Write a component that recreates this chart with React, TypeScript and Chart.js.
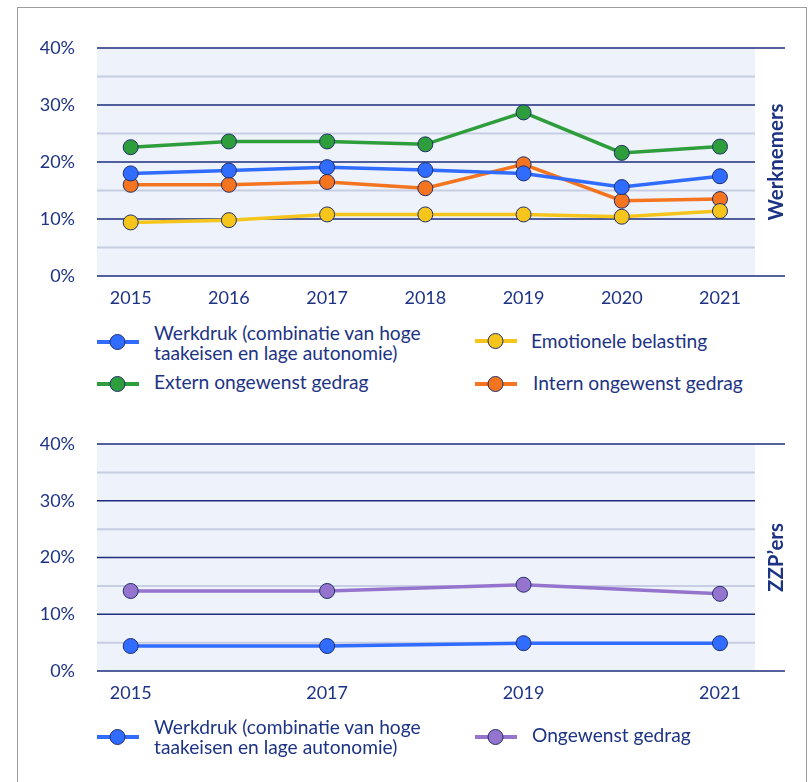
import React, { useEffect, useRef } from 'react';
import { Chart, registerables } from 'chart.js';

Chart.register(...registerables);

// ---------- data ----------
const yearsWerknemers = [2015, 2016, 2017, 2018, 2019, 2020, 2021];
const werkdrukWerknemers = [18.0, 18.5, 19.1, 18.6, 18.0, 15.6, 17.5];
const emotioneleBelasting = [9.4, 9.8, 10.8, 10.8, 10.8, 10.4, 11.4];
const externOngewenst = [22.6, 23.6, 23.6, 23.1, 28.7, 21.6, 22.7];
const internOngewenst = [16.0, 16.0, 16.5, 15.4, 19.6, 13.2, 13.5];

const yearsZzp = [2015, 2017, 2019, 2021];
const werkdrukZzp = [4.4, 4.4, 4.9, 4.9];
const ongewenstZzp = [14.1, 14.1, 15.2, 13.6];

const yTickValues = [0, 10, 20, 30, 40];
const gridValues = [0, 5, 10, 15, 20, 25, 30, 35, 40];

const labelWerkdruk = ['Werkdruk (combinatie van hoge', 'taakeisen en lage autonomie)'];
const labelEmotionele = ['Emotionele belasting'];
const labelExtern = ['Extern ongewenst gedrag'];
const labelIntern = ['Intern ongewenst gedrag'];
const labelOngewenst = ['Ongewenst gedrag'];

// ---------- styles ----------
const NAVY = '#1d3384';
const GRID_DARK = '#1b2d7c';
const GRID_LIGHT = '#c7cee3';
const PLOT_BG = '#eef2fa';
const POINT_BORDER = '#22306e';
const FONT = 'Lato, "Noto Sans", sans-serif';

const BLUE = '#2f6cff';
const YELLOW = '#f5c51b';
const GREEN = '#2e9d3b';
const ORANGE = '#f47420';
const PURPLE = '#9474cc';

Chart.defaults.font.family = FONT;

type Series = { label: string[]; color: string; values: number[] };

function makeDataset(s: Series, years: number[]) {
  return {
    label: s.label.join(' '),
    data: years.map((y, i) => ({ x: y, y: s.values[i] })),
    borderColor: s.color,
    backgroundColor: s.color,
    borderWidth: 3.5,
    pointRadius: 7.5,
    pointHoverRadius: 7.5,
    pointBackgroundColor: s.color,
    pointBorderColor: POINT_BORDER,
    pointBorderWidth: 1,
    tension: 0,
    fill: false,
  };
}

function PanelChart(props: {
  years: number[];
  series: Series[];
  sideLabel: string;
  top: number;
  padTop: number;
  axisHeight: number;
}) {
  const ref = useRef<HTMLCanvasElement | null>(null);
  const { years, series, sideLabel, top, padTop, axisHeight } = props;

  useEffect(() => {
    if (!ref.current) return;
    const bandRightInset = 30;
    const panelPlugin = {
      id: 'panelPlugin',
      beforeDatasetsDraw(chart: any) {
        const { ctx, chartArea } = chart;
        const ys = chart.scales.y;
        const bandRight = chartArea.right - bandRightInset;
        ctx.save();
        ctx.fillStyle = PLOT_BG;
        ctx.fillRect(chartArea.left, chartArea.top, bandRight - chartArea.left, chartArea.bottom - chartArea.top);
        for (const v of gridValues) {
          const py = ys.getPixelForValue(v);
          const major = v % 10 === 0;
          const edge = v === 0 || v === 40;
          ctx.beginPath();
          ctx.strokeStyle = major ? GRID_DARK : GRID_LIGHT;
          ctx.lineWidth = major ? 1.5 : 2;
          ctx.moveTo(chartArea.left, py);
          ctx.lineTo(edge ? chartArea.right : bandRight, py);
          ctx.stroke();
        }
        ctx.restore();
      },
      afterDraw(chart: any) {
        const { ctx, chartArea } = chart;
        ctx.save();
        ctx.translate(chartArea.right - 2, (chartArea.top + chartArea.bottom) / 2);
        ctx.rotate(-Math.PI / 2);
        ctx.fillStyle = NAVY;
        ctx.font = `bold 20.5px ${FONT}`;
        ctx.textAlign = 'center';
        ctx.textBaseline = 'alphabetic';
        ctx.fillText(sideLabel, 0, 0);
        ctx.restore();
      },
    };

    const chart = new Chart(ref.current, {
      type: 'line',
      data: { datasets: series.map((s) => makeDataset(s, years)) as any },
      options: {
        animation: false,
        responsive: false,
        maintainAspectRatio: false,
        events: [],
        layout: { padding: { top: padTop, right: 23, left: 0, bottom: 0 }, autoPadding: false } as any,
        plugins: { legend: { display: false }, tooltip: { enabled: false } },
        scales: {
          x: {
            type: 'linear',
            min: 2014.657,
            max: 2021.662,
            grid: { display: false },
            border: { display: false },
            afterBuildTicks: (axis: any) => {
              axis.ticks = years.map((v) => ({ value: v }));
            },
            afterFit: (scale: any) => {
              scale.height = axisHeight;
            },
            ticks: {
              autoSkip: false,
              maxRotation: 0,
              padding: 3,
              color: NAVY,
              font: { size: 18, family: FONT },
              callback: (v: any) => String(v),
            },
          },
          y: {
            type: 'linear',
            min: 0,
            max: 40,
            grid: { display: false },
            border: { display: false },
            afterBuildTicks: (axis: any) => {
              axis.ticks = yTickValues.map((v) => ({ value: v }));
            },
            afterFit: (scale: any) => {
              scale.width = 97;
            },
            ticks: {
              padding: 14,
              color: NAVY,
              font: { size: 18, family: FONT },
              callback: (v: any) => `${v}%`,
            },
          },
        },
      },
      plugins: [panelPlugin],
    });
    return () => chart.destroy();
  }, []);

  return (
    <canvas
      ref={ref}
      width={808}
      height={320}
      style={{ position: 'absolute', left: 0, top, width: 808, height: 320 }}
    />
  );
}

function LegendIcon({ color, x, y }: { color: string; x: number; y: number }) {
  return (
    <svg
      width={42}
      height={18}
      style={{ position: 'absolute', left: x, top: y - 9 }}
    >
      <line x1={0} y1={9} x2={42} y2={9} stroke={color} strokeWidth={4} />
      <circle cx={20.5} cy={9} r={7.5} fill={color} stroke={POINT_BORDER} strokeWidth={1} />
    </svg>
  );
}

function LegendText({ lines, x, y }: { lines: string[]; x: number; y: number }) {
  return (
    <div
      style={{
        position: 'absolute',
        left: x,
        top: y,
        fontFamily: FONT,
        fontSize: 19.2,
        lineHeight: '20px',
        color: NAVY,
        whiteSpace: 'nowrap',
      }}
    >
      {lines.map((l, i) => (
        <div key={i}>{l}</div>
      ))}
    </div>
  );
}

export default function App() {
  const topSeries: Series[] = [
    { label: labelWerkdruk, color: BLUE, values: werkdrukWerknemers },
    { label: labelEmotionele, color: YELLOW, values: emotioneleBelasting },
    { label: labelExtern, color: GREEN, values: externOngewenst },
    { label: labelIntern, color: ORANGE, values: internOngewenst },
  ];
  const bottomSeries: Series[] = [
    { label: labelWerkdruk, color: BLUE, values: werkdrukZzp },
    { label: labelOngewenst, color: PURPLE, values: ongewenstZzp },
  ];

  return (
    <div style={{ position: 'absolute', left: 0, top: 0, width: 808, height: 782, overflow: 'hidden', background: '#fff' }}>
      <div
        style={{
          position: 'absolute',
          left: 17,
          top: 7,
          width: 788,
          height: 800,
          borderTop: '1px solid #9c9c9c',
          borderLeft: '1px solid #9c9c9c',
          borderRight: '1px solid #9c9c9c',
        }}
      />
      <PanelChart years={yearsWerknemers} series={topSeries} sideLabel="Werknemers" top={0} padTop={48} axisHeight={44} />
      <PanelChart years={yearsZzp} series={bottomSeries} sideLabel="ZZP’ers" top={400} padTop={44} axisHeight={49} />

      {/* top legend */}
      <LegendIcon color={BLUE} x={97} y={342} />
      <LegendText lines={topSeries[0].label} x={154} y={323} />
      <LegendIcon color={YELLOW} x={475} y={341} />
      <LegendText lines={topSeries[1].label} x={531} y={331} />
      <LegendIcon color={GREEN} x={97} y={384} />
      <LegendText lines={topSeries[2].label} x={154} y={372} />
      <LegendIcon color={ORANGE} x={475} y={384} />
      <LegendText lines={topSeries[3].label} x={533} y={373} />

      {/* bottom legend */}
      <LegendIcon color={BLUE} x={97} y={737} />
      <LegendText lines={bottomSeries[0].label} x={154} y={717} />
      <LegendIcon color={PURPLE} x={475} y={737} />
      <LegendText lines={bottomSeries[1].label} x={532} y={725} />
    </div>
  );
}
